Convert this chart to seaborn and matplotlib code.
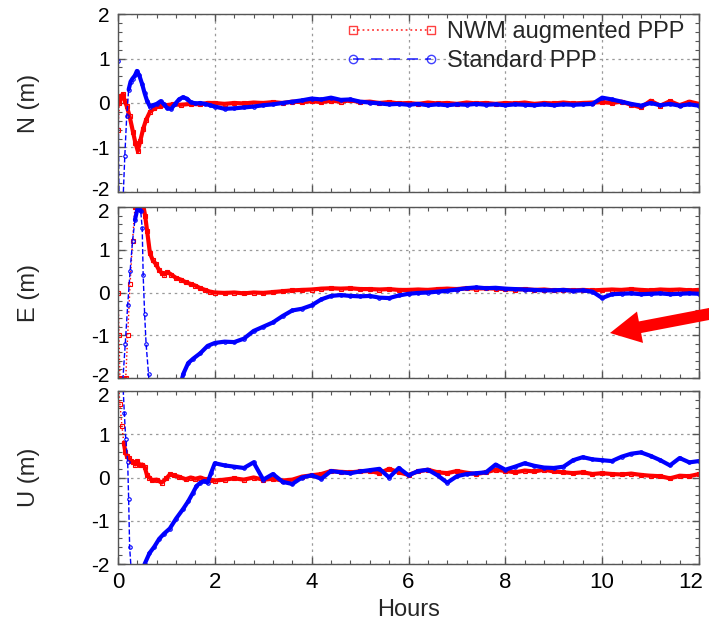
import numpy as np
import pandas as pd
import matplotlib
matplotlib.use("Agg")
import matplotlib.pyplot as plt
import matplotlib.transforms as mtransforms
from matplotlib.lines import Line2D
from matplotlib.ticker import MultipleLocator
import seaborn as sns

# ---------------- data (hours, metres) ----------------
hours_late = [2.0, 2.2, 2.4, 2.6, 2.8, 3.0, 3.2, 3.4, 3.6, 3.8, 4.0, 4.2, 4.4, 4.6, 4.8,
              5.0, 5.2, 5.4, 5.6, 5.8, 6.0, 6.2, 6.4, 6.6, 6.8, 7.0, 7.2, 7.4, 7.6, 7.8,
              8.0, 8.2, 8.4, 8.6, 8.8, 9.0, 9.2, 9.4, 9.6, 9.8, 10.0, 10.2, 10.4, 10.6, 10.8,
              11.0, 11.2, 11.4, 11.6, 11.8, 12.0]

# North
n_nwm_t_early = [0.0, 0.03, 0.07, 0.1, 0.14, 0.18, 0.24, 0.31, 0.36, 0.41, 0.46, 0.52, 0.58,
                 0.66, 0.75, 0.86, 1.0, 1.13, 1.3, 1.5, 1.7, 1.85]
n_nwm_v_early = [-0.6, 0.0, 0.15, 0.2, 0.05, -0.07, -0.3, -0.65, -0.9, -1.08, -0.85, -0.58, -0.38,
                 -0.2, -0.12, -0.07, -0.05, -0.03, -0.04, -0.02, -0.03, 0.0]
n_nwm_v_late = [0.0, -0.02, 0.0, -0.01, 0.01, 0.0, 0.02, 0.0, 0.03, 0.02, 0.04, 0.02, 0.05, 0.03, 0.06,
                0.02, 0.03, 0.0, 0.02, -0.01, 0.0, -0.02, 0.01, -0.01, 0.0, -0.02, 0.01, -0.01, 0.0, -0.02,
                0.0, -0.01, 0.01, -0.02, 0.0, -0.01, 0.01, -0.01, 0.0, 0.01, 0.02, 0.0, 0.03, -0.04, -0.1,
                0.05, -0.06, 0.04, -0.05, 0.03, -0.02]
n_std_t_early = [0.0, 0.02, 0.1, 0.14, 0.18, 0.22, 0.26, 0.3, 0.35, 0.39, 0.44, 0.5, 0.55, 0.6,
                 0.66, 0.72, 0.8, 0.88, 0.95, 1.02, 1.1, 1.18, 1.26, 1.34, 1.42, 1.5, 1.6, 1.7, 1.8, 1.9]
n_std_v_early = [0.95, -2.3, -2.3, -1.2, -0.3, 0.3, 0.48, 0.55, 0.62, 0.72, 0.62, 0.42, 0.22, 0.05,
                 -0.08, -0.05, -0.02, 0.04, -0.03, -0.12, -0.13, -0.02, 0.08, 0.13, 0.1, 0.02, -0.01, 0.0, -0.02, -0.05]
n_std_v_late = [-0.08, -0.13, -0.12, -0.1, -0.08, -0.05, -0.03, 0.0, 0.03, 0.06, 0.1, 0.08, 0.12, 0.07, 0.08,
                0.03, 0.01, -0.01, -0.03, -0.02, -0.04, -0.02, -0.05, -0.03, -0.05, -0.03, -0.04, -0.02, -0.04, -0.03,
                -0.05, -0.03, -0.04, -0.05, -0.03, -0.05, -0.03, -0.04, -0.03, -0.02, 0.12, 0.08, 0.03, -0.02, -0.06,
                0.0, -0.05, -0.02, -0.06, -0.03, -0.06]

# East
e_nwm_t_early = [0.0, 0.02, 0.04, 0.1, 0.16, 0.2, 0.25, 0.3, 0.35, 0.45, 0.52, 0.56, 0.6, 0.66, 0.72,
                 0.78, 0.85, 0.9, 0.96, 1.02, 1.1, 1.2, 1.3, 1.4, 1.5, 1.6, 1.7, 1.8, 1.9]
e_nwm_v_early = [0.0, -1.0, -2.0, -2.05, -2.0, -1.0, 0.2, 1.2, 2.0, 2.1, 2.05, 1.8, 1.45, 0.92, 0.75,
                 0.67, 0.52, 0.46, 0.42, 0.48, 0.42, 0.34, 0.3, 0.24, 0.2, 0.16, 0.1, 0.06, 0.02]
e_nwm_v_late = [0.0, -0.01, 0.0, -0.02, 0.0, -0.01, 0.01, 0.03, 0.05, 0.06, 0.07, 0.09, 0.1, 0.09, 0.1,
                0.08, 0.08, 0.07, 0.08, 0.06, 0.06, 0.07, 0.06, 0.08, 0.09, 0.08, 0.1, 0.09, 0.1, 0.09,
                0.08, 0.07, 0.08, 0.06, 0.07, 0.05, 0.06, 0.05, 0.06, 0.05, 0.06, 0.07, 0.06, 0.08, 0.06,
                0.05, 0.07, 0.06, 0.07, 0.05, 0.06]
e_std_t_early = [0.1, 0.15, 0.2, 0.25, 0.3, 0.35, 0.42, 0.47, 0.5, 0.52, 0.55, 0.58, 0.63, 0.66,
                 0.8, 1.1, 1.28, 1.35, 1.45, 1.55, 1.7, 1.85]
e_std_v_early = [-2.05, -1.2, -0.3, 0.5, 1.2, 1.7, 2.05, 1.9, 1.5, 0.4, -0.5, -1.2, -1.9, -2.5,
                 -3.5, -3.0, -2.2, -1.9, -1.65, -1.55, -1.42, -1.25]
e_std_v_late = [-1.18, -1.15, -1.16, -1.08, -0.9, -0.8, -0.7, -0.55, -0.42, -0.38, -0.3, -0.16, -0.08, -0.06, -0.08,
                -0.09, -0.08, -0.12, -0.13, -0.07, -0.03, -0.01, 0.0, 0.02, 0.04, 0.07, 0.1, 0.12, 0.1, 0.11,
                0.09, 0.08, 0.07, 0.06, 0.05, 0.05, 0.06, 0.04, 0.05, 0.02, -0.13, -0.04, -0.03, -0.02, -0.04,
                -0.03, -0.02, -0.04, -0.03, -0.02, -0.03]

# Up
u_nwm_t_early = [0.0, 0.04, 0.08, 0.12, 0.15, 0.18, 0.22, 0.27, 0.31, 0.36, 0.4, 0.45, 0.5, 0.55,
                 0.6, 0.65, 0.7, 0.8, 0.9, 1.0, 1.07, 1.15, 1.25, 1.4, 1.5, 1.6, 1.7, 1.8, 1.9]
u_nwm_v_early = [2.3, 1.7, 1.2, 0.8, 0.6, 0.5, 0.45, 0.38, 0.35, 0.3, 0.38, 0.28, 0.3, 0.25,
                 0.05, 0.0, -0.06, -0.05, -0.12, -0.02, 0.07, 0.05, 0.02, -0.04, 0.0, -0.03, 0.0, -0.04, -0.05]
u_nwm_v_late = [-0.07, -0.05, -0.02, -0.05, 0.0, -0.05, -0.03, -0.07, -0.05, 0.02, 0.05, 0.08, 0.15, 0.13, 0.12,
                0.14, 0.15, 0.1, 0.2, 0.12, 0.06, 0.14, 0.18, 0.12, 0.1, 0.15, 0.11, 0.08, 0.12, 0.18,
                0.15, 0.12, 0.16, 0.14, 0.18, 0.14, 0.12, 0.1, 0.12, 0.08, 0.1, 0.08, 0.07, 0.09, 0.06,
                0.04, 0.03, -0.02, 0.04, 0.03, 0.08]
u_std_t_early = [0.1, 0.13, 0.16, 0.2, 0.22, 0.24, 0.27, 0.3, 0.5, 0.55, 0.65, 0.75, 0.85, 0.95,
                 1.07, 1.2, 1.35, 1.45, 1.55, 1.62, 1.7, 1.78, 1.85, 1.92]
u_std_v_early = [2.2, 1.5, 0.9, 0.35, -0.5, -1.6, -2.1, -3.0, -2.3, -2.0, -1.75, -1.6, -1.42, -1.3,
                 -1.18, -0.95, -0.72, -0.55, -0.35, -0.2, -0.12, -0.08, -0.12, 0.1]
u_std_v_late = [0.33, 0.28, 0.25, 0.22, 0.35, -0.05, 0.08, -0.1, -0.15, 0.0, 0.05, -0.03, 0.15, 0.12, 0.1,
                0.14, 0.17, 0.2, 0.0, 0.22, 0.05, 0.15, 0.18, 0.05, -0.12, 0.03, 0.08, 0.1, 0.12, 0.3,
                0.18, 0.25, 0.33, 0.27, 0.23, 0.22, 0.25, 0.4, 0.47, 0.42, 0.4, 0.38, 0.48, 0.55, 0.58,
                0.5, 0.4, 0.28, 0.45, 0.35, 0.38]

series_names = ["NWM augmented PPP", "Standard PPP"]
panel_labels = ["N (m)", "E (m)", "U (m)"]
x_ticks = [0, 2, 4, 6, 8, 10, 12]
y_ticks = [-2, -1, 0, 1, 2]

panels = [
    ((n_nwm_t_early, n_nwm_v_early, n_nwm_v_late), (n_std_t_early, n_std_v_early, n_std_v_late)),
    ((e_nwm_t_early, e_nwm_v_early, e_nwm_v_late), (e_std_t_early, e_std_v_early, e_std_v_late)),
    ((u_nwm_t_early, u_nwm_v_early, u_nwm_v_late), (u_std_t_early, u_std_v_early, u_std_v_late)),
]

# ---------------- style ----------------
sns.set_style("white")
plt.rcParams['font.family'] = ['Liberation Sans', 'DejaVu Sans']

RED = "#ff0000"
BLUE = "#0000ff"
styles = [
    dict(color=RED, ls=":", marker="s"),
    dict(color=BLUE, ls="--", marker="o"),
]
STEEP = 9.5  # m/h: steep convergence segments are drawn thin

fig = plt.figure(figsize=(7.09, 6.21), dpi=100)
L, R = 118 / 709, 699 / 709
rows = [(14, 192), (207, 378), (391, 564)]
axes = []
for top, bot in rows:
    ax = fig.add_axes([L, 1 - bot / 621, R - L, (bot - top) / 621])
    axes.append(ax)


def build_frames(t, v):
    t = np.asarray(t, float)
    v = np.asarray(v, float)
    slope = np.abs(np.diff(v) / np.diff(t))
    seg = np.concatenate([[0], np.cumsum(slope > STEEP)])
    full = pd.DataFrame({"t": t, "v": v})
    thick = pd.DataFrame({"t": t, "v": v, "seg": seg})
    counts = thick.groupby("seg")["t"].transform("size")
    thick = thick[counts > 1]
    return full, thick


def shift(label, dx_px, dy_px):
    label.set_transform(label.get_transform() +
                        mtransforms.ScaledTranslation(dx_px / 100, dy_px / 100, fig.dpi_scale_trans))


for i, (ax, (ylabel, series)) in enumerate(zip(axes, zip(panel_labels, panels))):
    for (t_e, v_e, v_l), st in zip(series, styles):
        t_all = list(t_e) + hours_late
        v_all = list(v_e) + list(v_l)
        full, thick = build_frames(t_all, v_all)
        sns.lineplot(data=full, x="t", y="v", estimator=None, sort=False, ax=ax,
                     color=st["color"], lw=1.0, linestyle=st["ls"], marker=st["marker"],
                     markersize=2.5, markerfacecolor="none", markeredgecolor=st["color"],
                     markeredgewidth=0.8)
        sns.lineplot(data=thick, x="t", y="v", units="seg", estimator=None, sort=False, ax=ax,
                     color=st["color"], lw=3.0)
    ax.set_xlim(0, 12)
    ax.set_ylim(-2, 2)
    ax.set_xticks(x_ticks)
    ax.set_yticks(y_ticks)
    ax.xaxis.set_minor_locator(MultipleLocator(0.4))
    ax.yaxis.set_minor_locator(MultipleLocator(0.2))
    ax.grid(True, which="major", ls=(0, (2, 3)), color="#9a9a9a", lw=0.9)
    ax.tick_params(which="both", direction="in", top=True, right=True, bottom=True, left=True,
                   colors="#555555", labelcolor="black", labelsize=15, pad=6)
    ax.tick_params(which="major", length=5, width=1)
    ax.tick_params(which="minor", length=3, width=0.8)
    for sp in ax.spines.values():
        sp.set_color("#555555")
        sp.set_linewidth(1.0)
    ax.set_ylabel(ylabel, fontsize=17)
    ax.yaxis.set_label_coords(-0.134, 0.5)
    ax.set_xlabel("")
    ax.set_yticklabels([str(v) for v in y_ticks])
    ylabels = ax.get_yticklabels()
    if i < 2:
        shift(ylabels[0], 0, 3)
    if i > 0:
        shift(ylabels[-1], 0, -3)

for ax in axes[:2]:
    ax.tick_params(labelbottom=False)
axes[2].set_xticklabels([str(v) for v in x_ticks])
axes[2].tick_params(axis="x", labelsize=16, pad=6)
shift(axes[2].get_xticklabels()[-1], -8, 0)
axes[2].set_xlabel("Hours", fontsize=17, labelpad=4)

handles = [
    Line2D([], [], color=RED, ls=":", lw=1.3, marker="s", ms=6, mfc="none", alpha=0.75),
    Line2D([], [], color=BLUE, ls=(0, (6, 4)), lw=1.3, marker="o", ms=6, mfc="none", alpha=0.75),
]
axes[0].legend(handles, series_names, loc="upper left", bbox_to_anchor=(0.385, 0.985),
               frameon=False, fontsize=17, handlelength=3.9, handletextpad=0.35,
               labelspacing=0.28, borderaxespad=0.0, borderpad=0.2, numpoints=2)

# red annotation arrow
axes[1].annotate("", xy=(610, 621 - 333), xycoords="figure pixels",
                 xytext=(735, 621 - 309), textcoords="figure pixels",
                 arrowprops=dict(arrowstyle="simple,head_length=2.2,head_width=2.3,tail_width=0.85",
                                 mutation_scale=10, color=RED, shrinkA=0, shrinkB=0, lw=0),
                 annotation_clip=False)

fig.savefig("out.png", dpi=100)
